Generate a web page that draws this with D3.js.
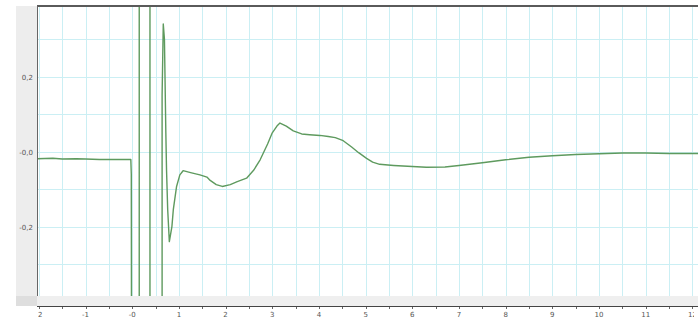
<!DOCTYPE html>
<html>
<head>
<meta charset="utf-8">
<script src="https://cdn.jsdelivr.net/npm/d3@7"></script>
<style>
  body { margin: 0; background: #fff; }
  svg { display: block; font-family: "DejaVu Sans", sans-serif; }
</style>
</head>
<body>
<div id="chart"></div>
<script>
// signal trace (x in ms-ish units, y in mV-ish units)
const traceX = [-2.04, -1.7, -1.5, -1.2, -1.0, -0.7, -0.5, -0.2, -0.03, -0.02, -0.01,
    0.15, 0.15, 0.38, 0.38, 0.64, 0.64, 0.665, 0.69, 0.72, 0.735, 0.76, 0.795, 0.85, 0.88, 0.95, 1.02, 1.09,
    1.25, 1.45, 1.6, 1.67, 1.8, 1.93, 2.1, 2.25, 2.45, 2.6, 2.74, 2.9, 3.0, 3.1, 3.165, 3.3, 3.45, 3.63, 3.8,
    4.02, 4.2, 4.35, 4.52, 4.7, 4.85, 5.02, 5.15, 5.3, 5.6, 6.0, 6.3, 6.7, 7.0, 7.5, 8.0, 8.5, 9.0, 9.5,
    10.0, 10.5, 11.0, 11.5, 12.12];
const traceY = [-0.019, -0.018, -0.02, -0.019, -0.02, -0.021, -0.021, -0.021, -0.021, -0.06, -1.0,
    -1.0, 1.0, 1.0, -1.0, -1.0, 0.15, 0.34, 0.3, 0.05, -0.05, -0.155, -0.24, -0.2, -0.155, -0.093, -0.062, -0.051,
    -0.056, -0.062, -0.068, -0.077, -0.088, -0.093, -0.088, -0.08, -0.071, -0.05, -0.022, 0.02, 0.05, 0.068, 0.076, 0.068, 0.055, 0.047, 0.045,
    0.043, 0.04, 0.037, 0.029, 0.012, -0.003, -0.018, -0.028, -0.034, -0.037, -0.04, -0.042, -0.041, -0.037, -0.03, -0.022, -0.015, -0.011, -0.008,
    -0.006, -0.004, -0.004, -0.005, -0.005];

const xTicks = d3.range(-2, 13, 1);
const xLabels = ['-2', '-1', '-0', '1', '2', '3', '4', '5', '6', '7', '8', '9', '10', '11', '12'];
const yTicks = [-0.2, 0, 0.2];
const yLabels = ['-0,2', '-0,0', '0,2'];

const width = 698, height = 321;
const plot = { left: 37, right: 698, top: 6, bottom: 296 };

const x = d3.scaleLinear().domain([-2.04, 12.12]).range([plot.left, plot.right]);
const y = d3.scaleLinear().domain([-0.385, 0.388]).range([plot.bottom, plot.top]);

const svg = d3.select('#chart').append('svg')
    .attr('width', width)
    .attr('height', height);

// left grey strip
svg.append('rect')
    .attr('x', 16).attr('y', plot.top)
    .attr('width', plot.left - 16).attr('height', plot.bottom - plot.top)
    .attr('fill', '#ededed');

// grey band under plot
svg.append('rect')
    .attr('x', plot.left).attr('y', plot.bottom)
    .attr('width', plot.right - plot.left).attr('height', 10)
    .attr('fill', '#efefef');
svg.append('rect')
    .attr('x', 16).attr('y', plot.bottom)
    .attr('width', plot.left - 16).attr('height', 10)
    .attr('fill', '#dedede');

svg.append('clipPath').attr('id', 'clip')
    .append('rect')
    .attr('x', plot.left).attr('y', plot.top)
    .attr('width', plot.right - plot.left).attr('height', plot.bottom - plot.top);

const g = svg.append('g').attr('clip-path', 'url(#clip)');

// grid, every 0.5 on x and 0.1 on y
g.append('g').selectAll('line')
    .data(d3.range(-2, 12.5, 0.5))
    .enter().append('line')
    .attr('x1', d => Math.round(x(d)) + 0.5).attr('x2', d => Math.round(x(d)) + 0.5)
    .attr('y1', plot.top).attr('y2', plot.bottom)
    .attr('stroke', '#cbeff4');
g.append('g').selectAll('line')
    .data(d3.range(-0.3, 0.35, 0.1))
    .enter().append('line')
    .attr('y1', d => Math.round(y(d)) + 0.5).attr('y2', d => Math.round(y(d)) + 0.5)
    .attr('x1', plot.left).attr('x2', plot.right)
    .attr('stroke', '#cbeff4');

const line = d3.line()
    .x((d, i) => x(traceX[i]))
    .y(d => y(d));

g.append('path')
    .datum(traceY)
    .attr('d', line)
    .attr('fill', 'none')
    .attr('stroke', '#5e9a5e')
    .attr('stroke-width', 1.4)
    .attr('stroke-linejoin', 'round');

// borders
svg.append('line')
    .attr('x1', plot.left).attr('x2', plot.right)
    .attr('y1', plot.top).attr('y2', plot.top)
    .attr('stroke', '#5a5a5a').attr('stroke-width', 2);
svg.append('line')
    .attr('x1', plot.left + 0.5).attr('x2', plot.left + 0.5)
    .attr('y1', plot.top).attr('y2', plot.bottom)
    .attr('stroke', '#666');

// y labels
svg.append('g').selectAll('text')
    .data(yTicks)
    .enter().append('text')
    .attr('x', 33)
    .attr('y', d => y(d) + 3)
    .attr('text-anchor', 'end')
    .attr('font-size', 7)
    .attr('fill', '#555')
    .text((d, i) => yLabels[i]);

// x axis
const axisY = 306;
svg.append('line')
    .attr('x1', plot.left).attr('x2', plot.right)
    .attr('y1', axisY + 0.5).attr('y2', axisY + 0.5)
    .attr('stroke', '#444');
svg.append('g').selectAll('line')
    .data(d3.range(-2, 12.5, 0.5))
    .enter().append('line')
    .attr('x1', d => Math.round(x(d)) + 0.5).attr('x2', d => Math.round(x(d)) + 0.5)
    .attr('y1', axisY + 1).attr('y2', axisY + 3)
    .attr('stroke', '#666');

svg.append('clipPath').attr('id', 'clipLabels')
    .append('rect')
    .attr('x', 38).attr('y', axisY)
    .attr('width', 694 - 38).attr('height', 15);

svg.append('g').attr('clip-path', 'url(#clipLabels)')
    .selectAll('text')
    .data(xTicks)
    .enter().append('text')
    .attr('x', d => x(d))
    .attr('y', 317)
    .attr('text-anchor', 'middle')
    .attr('font-size', 7)
    .attr('fill', '#555')
    .text((d, i) => xLabels[i]);
</script>
</body>
</html>
